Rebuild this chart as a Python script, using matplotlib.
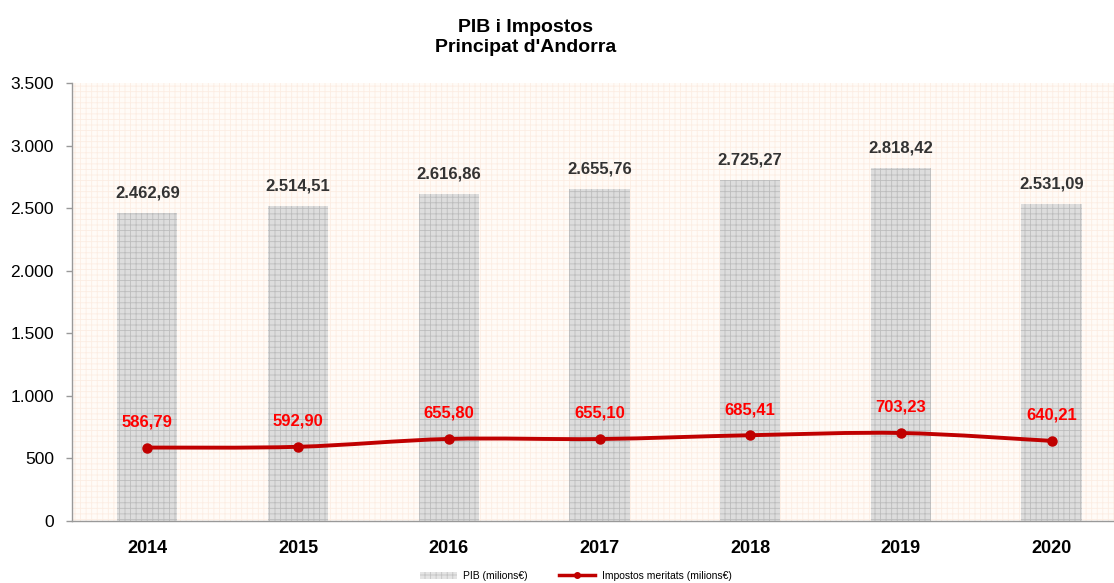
import matplotlib
matplotlib.use("Agg")
import matplotlib.pyplot as plt
from matplotlib.patches import Rectangle, Patch
from matplotlib.lines import Line2D
from matplotlib.path import Path
from matplotlib.patches import PathPatch
from matplotlib.ticker import FuncFormatter

years = ["2014", "2015", "2016", "2017", "2018", "2019", "2020"]
pib = [2462.69, 2514.51, 2616.86, 2655.76, 2725.27, 2818.42, 2531.09]
impostos = [586.79, 592.90, 655.80, 655.10, 685.41, 703.23, 640.21]
yticks = [0, 500, 1000, 1500, 2000, 2500, 3000, 3500]

plt.rcParams["font.family"] = ["Liberation Sans", "DejaVu Sans"]
plt.rcParams["hatch.linewidth"] = 0.6


def fmt_es(v, decimals=2):
    s = f"{v:,.{decimals}f}"
    return s.replace(",", "X").replace(".", ",").replace("X", ".")


fig = plt.figure(figsize=(11.14, 5.83), dpi=100)
fig.patch.set_facecolor("white")
ax = fig.add_axes([72 / 1114, 62 / 583, 1055 / 1114, 438 / 583])

# plot area: cream background with a faint grid pattern
ax.set_facecolor("#fffbf7")
bg = Rectangle((0, 0), 1, 1, transform=ax.transAxes, facecolor="#fffbf7",
               edgecolor="#fcede3", hatch="+++", linewidth=0, zorder=0)
ax.add_patch(bg)

x = list(range(len(years)))
ax.bar(x, pib, width=0.4, color="#dddddd", edgecolor="#bdbdbd",
       hatch="+++", linewidth=0, zorder=2)

# smoothed tax line (cubic Bezier segments through each point)
verts = [(x[0], impostos[0])]
codes = [Path.MOVETO]
n = len(x)
for i in range(n - 1):
    p0 = (x[max(i - 1, 0)], impostos[max(i - 1, 0)])
    p1 = (x[i], impostos[i])
    p2 = (x[i + 1], impostos[i + 1])
    p3 = (x[min(i + 2, n - 1)], impostos[min(i + 2, n - 1)])
    c1 = (p1[0] + (p2[0] - p0[0]) / 6, p1[1] + (p2[1] - p0[1]) / 6)
    c2 = (p2[0] - (p3[0] - p1[0]) / 6, p2[1] - (p3[1] - p1[1]) / 6)
    verts += [c1, c2, p2]
    codes += [Path.CURVE4] * 3
ax.add_patch(PathPatch(Path(verts, codes), facecolor="none",
                       edgecolor="#c00000", linewidth=2.8, zorder=3,
                       capstyle="round", joinstyle="round"))
ax.plot(x, impostos, linestyle="none", marker="o", markersize=6.5,
        color="#c00000", zorder=4)

for xi, v in zip(x, pib):
    ax.annotate(fmt_es(v), (xi, v), xytext=(0, 9), textcoords="offset points",
                ha="center", va="bottom", fontsize=12, fontweight="bold",
                color="#333333", zorder=5)
for xi, v in zip(x, impostos):
    ax.annotate(fmt_es(v), (xi, v), xytext=(0, 13), textcoords="offset points",
                ha="center", va="bottom", fontsize=12, fontweight="bold",
                color="#ff0000", zorder=5)

ax.set_xlim(-0.5, len(years) - 0.5)
ax.set_ylim(0, 3500)
ax.set_yticks(yticks)
ax.yaxis.set_major_formatter(FuncFormatter(lambda v, p: fmt_es(v, 0)))
ax.set_xticks(x)
ax.set_xticklabels(years, fontweight="bold")
ax.tick_params(axis="x", length=0, pad=14, labelsize=13, colors="black")
ax.tick_params(axis="y", length=4, width=1, pad=9, labelsize=12.5,
               color="#999999", labelcolor="black")
for side in ("top", "right"):
    ax.spines[side].set_visible(False)
for side in ("left", "bottom"):
    ax.spines[side].set_color("#999999")
    ax.spines[side].set_linewidth(1)

fig.text(526 / 1114, 1 - 32 / 583, "PIB i Impostos", ha="center",
         va="baseline", fontsize=14, fontweight="bold")
fig.text(526 / 1114, 1 - 52 / 583, "Principat d'Andorra", ha="center",
         va="baseline", fontsize=14, fontweight="bold")

handles = [
    Patch(facecolor="#e4e4e4", edgecolor="#c4c4c4", hatch="+++", linewidth=0),
    Line2D([0], [0], color="#c00000", linewidth=2.5, marker="o", markersize=4),
]
labels = ["PIB (milions€)", "Impostos meritats (milions€)"]
fig.legend(handles, labels, loc="center", bbox_to_anchor=(576 / 1114, 7 / 583),
           ncol=2, frameon=False, fontsize=7.5, handlelength=3.5,
           columnspacing=3, handletextpad=0.6)

fig.savefig("out.png", dpi=100)
